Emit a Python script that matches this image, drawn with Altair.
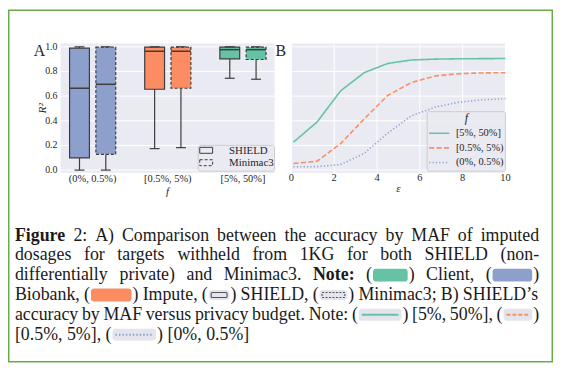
import altair as alt
import pandas as pd

# ---------------- data ----------------
maf_bins = ['(0%, 0.5%)', '[0.5%, 5%)', '[5%, 50%]']
methods = ['SHIELD', 'Minimac3']
# per MAF bin: [SHIELD, Minimac3]
whisker_low = [[0.000, 0.000], [0.174, 0.182], [0.745, 0.737]]
quartile_1 = [[0.099, 0.128], [0.656, 0.664], [0.902, 0.897]]
median_r2 = [[0.664, 0.696], [0.964, 0.964], [0.977, 0.977]]
quartile_3 = [[0.990, 0.997], [0.998, 0.998], [0.998, 0.998]]
whisker_high = [[1.000, 1.000], [1.000, 1.000], [1.000, 1.000]]

epsilon = [0.1, 1.2, 2.3, 3.4, 4.5, 5.6, 6.7, 7.8, 8.9, 10.0]
r2_common = [0.227, 0.390, 0.643, 0.790, 0.865, 0.893, 0.900, 0.903, 0.904, 0.905]
r2_lowfreq = [0.054, 0.072, 0.215, 0.415, 0.605, 0.710, 0.763, 0.782, 0.788, 0.790]
r2_rare = [0.027, 0.028, 0.045, 0.135, 0.300, 0.440, 0.510, 0.550, 0.570, 0.580]
line_bins = ['[5%, 50%]', '[0.5%, 5%)', '(0%, 0.5%)']

y_ticks = [0.0, 0.2, 0.4, 0.6, 0.8, 1.0]
eps_ticks = [0, 2, 4, 6, 8, 10]

# caption, one list per printed line ('*' = bold word, '@' = inline key)
caption_lines = [
    ['*Figure', '2:', 'A)', 'Comparison', 'between', 'the', 'accuracy', 'by', 'MAF', 'of', 'imputed'],
    ['dosages', 'for', 'targets', 'withheld', 'from', '1KG', 'for', 'both', 'SHIELD', '(non-'],
    ['differentially', 'private)', 'and', 'Minimac3.', '*Note:', '@client', 'Client,', '@biobank'],
    ['Biobank,', '@impute', 'Impute,', '@shield', 'SHIELD,', '@minimac', 'Minimac3;', 'B)', 'SHIELD\u2019s'],
    ['accuracy', 'by', 'MAF', 'versus', 'privacy', 'budget.', 'Note:', '@common', '[5%,', '50%],', '@lowfreq'],
    ['[0.5%,', '5%],', '@rare', '[0%,', '0.5%]'],
]

# ---------------- layout / style ----------------
W, H = 550, 356
M = 8  # page margin
FONT = 'Liberation Serif'
TXT = '#262626'
EDGE = '#3d3d3d'
BG = '#EAEAF2'
GREEN, ORANGE, BLUE = '#66C2A5', '#FC8D62', '#8DA0CB'
DASH_BOX = [3, 2]

y_dom = [-0.022, 1.026]
xA_dom = [-0.4276, 2.421]
xB_dom = [0, 10]
yS = alt.Scale(domain=y_dom, range=[172.7 - M, 42.3 - M], nice=False, zero=False)
xAS = alt.Scale(domain=xA_dom, range=[61 - M, 277 - M], nice=False, zero=False)
xBS = alt.Scale(domain=xB_dom, range=[294 - M, 510 - M], nice=False, zero=False)
colA = alt.Scale(domain=maf_bins, range=[BLUE, ORANGE, GREEN])
colB = alt.Scale(domain=line_bins, range=[GREEN, ORANGE, BLUE])
dashB = alt.Scale(domain=line_bins, range=[[1, 0], [5, 2.5], [1.2, 2.2]])


def px(v):
    return v - M


# ---------------- panel A ----------------
bgA_df = pd.DataFrame({'x0': [xA_dom[0]], 'x1': [xA_dom[1]], 'y0': [y_dom[0]], 'y1': [y_dom[1]]})
bgA = alt.Chart(bgA_df).mark_rect(color=BG).encode(
    x=alt.X('x0:Q', scale=xAS, axis=None), x2='x1:Q',
    y=alt.Y('y0:Q', scale=yS, axis=None), y2='y1:Q')
gridA_df = pd.DataFrame({'g': y_ticks, 'x0': xA_dom[0], 'x1': xA_dom[1]})
gridA = alt.Chart(gridA_df).mark_rule(color='white', strokeWidth=1).encode(
    x=alt.X('x0:Q', scale=xAS, axis=None), x2='x1:Q',
    y=alt.Y('g:Q', scale=yS, axis=None))

rows = []
for i, c in enumerate(maf_bins):
    for j, m in enumerate(methods):
        rows.append(dict(cat=c, idx=i, mi=j, method=m, low=whisker_low[i][j], q1=quartile_1[i][j],
                         med=median_r2[i][j], q3=quartile_3[i][j], high=whisker_high[i][j]))
box_df = pd.DataFrame(rows)
boxbase = alt.Chart(box_df).transform_calculate(
    xc='datum.idx + (datum.mi == 0 ? -0.175 : 0.175)'
).transform_calculate(
    xl='datum.xc - 0.132', xr='datum.xc + 0.132', cl='datum.xc - 0.066', cr='datum.xc + 0.066')

whisk_lo = boxbase.mark_rule(color=EDGE, strokeWidth=1.2).encode(
    x=alt.X('xc:Q', scale=xAS, axis=None), y=alt.Y('low:Q', scale=yS, axis=None), y2='q1:Q')
whisk_hi = boxbase.mark_rule(color=EDGE, strokeWidth=1.2).encode(
    x=alt.X('xc:Q', scale=xAS, axis=None), y=alt.Y('q3:Q', scale=yS, axis=None), y2='high:Q')
cap_lo = boxbase.mark_rule(color=EDGE, strokeWidth=1.2).encode(
    x=alt.X('cl:Q', scale=xAS, axis=None), x2='cr:Q', y=alt.Y('low:Q', scale=yS, axis=None))
cap_hi = boxbase.mark_rule(color=EDGE, strokeWidth=1.2).encode(
    x=alt.X('cl:Q', scale=xAS, axis=None), x2='cr:Q', y=alt.Y('high:Q', scale=yS, axis=None))
box_enc = dict(
    x=alt.X('xl:Q', scale=xAS, axis=None), x2='xr:Q',
    y=alt.Y('q1:Q', scale=yS, axis=None), y2='q3:Q',
    color=alt.Color('cat:N', scale=colA, legend=None))
boxes_shield = boxbase.transform_filter('datum.mi == 0').mark_rect(
    stroke=EDGE, strokeWidth=1.2).encode(**box_enc)
boxes_mini = boxbase.transform_filter('datum.mi == 1').mark_rect(
    stroke=EDGE, strokeWidth=1.2, strokeDash=DASH_BOX).encode(**box_enc)
medians = boxbase.mark_rule(color=EDGE, strokeWidth=1.5).encode(
    x=alt.X('xl:Q', scale=xAS, axis=None), x2='xr:Q', y=alt.Y('med:Q', scale=yS, axis=None))

# legend of panel A
legA_box = alt.Chart(pd.DataFrame({'a': [0]})).mark_rect(
    fill=BG, fillOpacity=0.85, stroke='#CCCCCC', strokeWidth=1, cornerRadius=2).encode(
    x=alt.value(px(200)), x2=alt.value(px(277)), y=alt.value(px(145)), y2=alt.value(px(171)))
legA_df = pd.DataFrame({'method': methods, 'mi': [0, 1], 'x0': [px(201.5)] * 2, 'x1': [px(214.5)] * 2,
                        'y0': [px(147), px(159.5)], 'y1': [px(153), px(165.5)],
                        'tx': [px(231)] * 2, 'ty': [px(150.5), px(163)]})
legA_enc = dict(x=alt.X('x0:Q', scale=None), x2='x1:Q', y=alt.Y('y0:Q', scale=None), y2='y1:Q')
legA_sym_s = alt.Chart(legA_df).transform_filter('datum.mi == 0').mark_rect(
    fill='transparent', stroke=EDGE, strokeWidth=1).encode(**legA_enc)
legA_sym_m = alt.Chart(legA_df).transform_filter('datum.mi == 1').mark_rect(
    fill='transparent', stroke=EDGE, strokeWidth=1, strokeDash=DASH_BOX).encode(**legA_enc)
legA_txt = alt.Chart(legA_df).mark_text(align='left', baseline='middle', font=FONT, fontSize=11,
                                        color=TXT).encode(
    x=alt.X('tx:Q', scale=None), y=alt.Y('ty:Q', scale=None), text='method:N')

panelA = alt.layer(bgA, gridA, whisk_lo, whisk_hi, boxes_shield, boxes_mini, medians, cap_lo, cap_hi,
                   legA_box, legA_sym_s, legA_sym_m, legA_txt)

# ---------------- panel B ----------------
bgB_df = pd.DataFrame({'x0': [xB_dom[0]], 'x1': [xB_dom[1]], 'y0': [y_dom[0]], 'y1': [y_dom[1]]})
bgB = alt.Chart(bgB_df).mark_rect(color=BG).encode(
    x=alt.X('x0:Q', scale=xBS, axis=None), x2='x1:Q',
    y=alt.Y('y0:Q', scale=yS, axis=None), y2='y1:Q')
gridBh_df = pd.DataFrame({'g': y_ticks, 'x0': xB_dom[0], 'x1': xB_dom[1]})
gridBh = alt.Chart(gridBh_df).mark_rule(color='white', strokeWidth=1).encode(
    x=alt.X('x0:Q', scale=xBS, axis=None), x2='x1:Q', y=alt.Y('g:Q', scale=yS, axis=None))
gridBv_df = pd.DataFrame({'g': eps_ticks, 'y0': y_dom[0], 'y1': y_dom[1]})
gridBv = alt.Chart(gridBv_df).mark_rule(color='white', strokeWidth=1).encode(
    x=alt.X('g:Q', scale=xBS, axis=None), y=alt.Y('y0:Q', scale=yS, axis=None), y2='y1:Q')

line_df = pd.DataFrame({
    'eps': epsilon * 3,
    'r2': r2_common + r2_lowfreq + r2_rare,
    'f': [line_bins[0]] * 10 + [line_bins[1]] * 10 + [line_bins[2]] * 10,
})
lines = alt.Chart(line_df).mark_line(strokeWidth=1.6).encode(
    x=alt.X('eps:Q', scale=xBS, axis=None),
    y=alt.Y('r2:Q', scale=yS, axis=None),
    color=alt.Color('f:N', scale=colB, legend=None),
    strokeDash=alt.StrokeDash('f:N', scale=dashB, legend=None))

# legend of panel B
legB_box = alt.Chart(pd.DataFrame({'a': [0]})).mark_rect(
    fill=BG, fillOpacity=0.85, stroke='#CCCCCC', strokeWidth=1, cornerRadius=2).encode(
    x=alt.value(px(431)), x2=alt.value(px(510)), y=alt.value(px(111)), y2=alt.value(px(171)))
legB_title = alt.Chart(pd.DataFrame({'t': ['f']})).mark_text(
    align='center', baseline='alphabetic', font=FONT, fontSize=12, fontStyle='italic', color=TXT).encode(
    x=alt.value(px(470.5)), y=alt.value(px(121.5)), text='t:N')
legB_df = pd.DataFrame({'f': line_bins, 'x0': [px(433)] * 3, 'x1': [px(453.5)] * 3,
                        'y': [px(132.7), px(147.5), px(162.3)], 'tx': [px(460)] * 3})
legB_sym = alt.Chart(legB_df).mark_rule(strokeWidth=1.6).encode(
    x=alt.X('x0:Q', scale=None), x2='x1:Q', y=alt.Y('y:Q', scale=None),
    color=alt.Color('f:N', scale=colB, legend=None),
    strokeDash=alt.StrokeDash('f:N', scale=dashB, legend=None))
legB_txt = alt.Chart(legB_df).mark_text(align='left', baseline='middle', font=FONT, fontSize=10.5,
                                        color=TXT).encode(
    x=alt.X('tx:Q', scale=None), y=alt.Y('y:Q', scale=None), text='f:N')

panelB = alt.layer(bgB, gridBh, gridBv, lines, legB_box, legB_title, legB_sym, legB_txt)

# ---------------- tick labels and axis titles ----------------
ytick_df = pd.DataFrame({'v': y_ticks})
ylabels = alt.Chart(ytick_df).mark_text(align='right', baseline='middle', font=FONT, fontSize=10,
                                        color=TXT).encode(
    x=alt.value(px(58)), y=alt.Y('v:Q', scale=yS, axis=None), text=alt.Text('v:Q', format='.1f'))
xA_df = pd.DataFrame({'idx': [0, 1, 2], 'lab': maf_bins})
xAlabels = alt.Chart(xA_df).mark_text(align='center', baseline='alphabetic', font=FONT, fontSize=10.5,
                                      color=TXT).encode(
    x=alt.X('idx:Q', scale=xAS, axis=None), y=alt.value(px(181.5)), text='lab:N')
xB_df = pd.DataFrame({'v': eps_ticks})
xBlabels = alt.Chart(xB_df).mark_text(align='center', baseline='alphabetic', font=FONT, fontSize=10.5,
                                      color=TXT).encode(
    x=alt.X('v:Q', scale=xBS, axis=None), y=alt.value(px(181)), text=alt.Text('v:Q', format='d'))
titles_df = pd.DataFrame({'t': ['f', '\u03b5'], 'x': [px(169), px(402)], 'y': [px(195.5), px(192)]})
xtitles = alt.Chart(titles_df).mark_text(align='center', baseline='alphabetic', font=FONT, fontSize=11,
                                         fontStyle='italic', color=TXT).encode(
    x=alt.X('x:Q', scale=None), y=alt.Y('y:Q', scale=None), text='t:N')
ytitle = alt.Chart(pd.DataFrame({'t': ['R\u00b2']})).mark_text(
    align='center', baseline='middle', font=FONT, fontSize=11.5, fontStyle='italic', angle=270,
    color=TXT).encode(x=alt.value(px(43.5)), y=alt.value(px(107.5)), text='t:N')

letters_df = pd.DataFrame({'t': ['A', 'B'], 'x': [px(34), px(278)], 'y': [px(54.5), px(54.5)]})
letters = alt.Chart(letters_df).mark_text(align='left', baseline='alphabetic', font=FONT,
                                          fontSize=16, color=TXT).encode(
    x=alt.X('x:Q', scale=None), y=alt.Y('y:Q', scale=None), text='t:N')

# ---------------- caption (justified like the printed page) ----------------
REG = {' ': 250, '(': 333, ')': 333, ',': 250, '-': 333, '.': 250, ':': 278, ';': 278, '%': 833,
       '[': 333, ']': 333, '\u2019': 333, 'A': 722, 'B': 667, 'C': 667, 'D': 722, 'E': 611, 'F': 556,
       'G': 722, 'H': 722, 'I': 333, 'K': 722, 'L': 611, 'M': 889, 'N': 722, 'S': 556, 'a': 444,
       'b': 500, 'c': 444, 'd': 500, 'e': 444, 'f': 333, 'g': 500, 'h': 500, 'i': 278, 'k': 500,
       'l': 278, 'm': 778, 'n': 500, 'o': 500, 'p': 500, 'r': 333, 's': 389, 't': 278, 'u': 500,
       'v': 500, 'w': 722, 'y': 500}
BOLD = dict(REG)
BOLD.update({'F': 611, 'u': 556, 'r': 444, 't': 333, ':': 333})
CAP = 18
LEFT, RIGHT = 15, 544
caption_baselines = [241, 261, 281, 301, 321, 341]
key_w = {'client': 35, 'biobank': 40, 'impute': 41, 'shield': 21, 'minimac': 28,
         'common': 43, 'lowfreq': 29, 'rare': 44}


def tw(s, bold=False):
    return sum((BOLD if bold else REG).get(ch, 500) for ch in s) * CAP / 1000.0


PAREN = tw('(')


def unit_w(tok):
    if tok.startswith('@'):
        return 2 * PAREN + key_w[tok[1:]] + 2
    return tw(tok.lstrip('*'), tok.startswith('*'))


reg_words, bold_words, keys = [], [], []
for li, toks in enumerate(caption_lines):
    widths = [unit_w(t) for t in toks]
    if li < len(caption_lines) - 1:
        gap = (RIGHT - LEFT - sum(widths)) / (len(toks) - 1)
    else:
        gap = tw(' ')
    x = LEFT
    base = caption_baselines[li]
    for t, w in zip(toks, widths):
        if t.startswith('@'):
            k = t[1:]
            reg_words.append(dict(x=px(x), y=px(base), t='('))
            sx0 = x + PAREN + 1
            sx1 = sx0 + key_w[k]
            keys.append(dict(k=k, x0=sx0, x1=sx1, base=base))
            reg_words.append(dict(x=px(sx1 + 1), y=px(base), t=')'))
        elif t.startswith('*'):
            bold_words.append(dict(x=px(x), y=px(base), t=t[1:]))
        else:
            reg_words.append(dict(x=px(x), y=px(base), t=t))
        x += w + gap

CAP_COL = '#1a1a1a'
cap_reg = alt.Chart(pd.DataFrame(reg_words)).mark_text(
    align='left', baseline='alphabetic', font=FONT, fontSize=CAP, color=CAP_COL).encode(
    x=alt.X('x:Q', scale=None), y=alt.Y('y:Q', scale=None), text='t:N')
cap_bold = alt.Chart(pd.DataFrame(bold_words)).mark_text(
    align='left', baseline='alphabetic', font=FONT, fontSize=CAP, fontWeight='bold', color=CAP_COL).encode(
    x=alt.X('x:Q', scale=None), y=alt.Y('y:Q', scale=None), text='t:N')

fill_of = {'client': GREEN, 'biobank': BLUE, 'impute': ORANGE}
solid_rows, light_rows, inner_rows, kline_rows = [], [], [], []
for kk in keys:
    k, x0, x1, b = kk['k'], kk['x0'], kk['x1'], kk['base']
    if k in fill_of:
        solid_rows.append(dict(x0=px(x0), x1=px(x1), y0=px(b - 11.5), y1=px(b + 1.5), c=fill_of[k]))
    elif k in ('shield', 'minimac'):
        light_rows.append(dict(x0=px(x0), x1=px(x1), y0=px(b - 10), y1=px(b)))
        inner_rows.append(dict(x0=px(x0 + 2.5), x1=px(x1 - 2.5), y0=px(b - 7.5), y1=px(b - 2.5),
                               d=0 if k == 'shield' else 1))
    else:
        light_rows.append(dict(x0=px(x0), x1=px(x1), y0=px(b - 11), y1=px(b + 1)))
        fb = {'common': line_bins[0], 'lowfreq': line_bins[1], 'rare': line_bins[2]}[k]
        kline_rows.append(dict(x0=px(x0 + 3), x1=px(x1 - 3), y=px(b - 5), f=fb))

sw_solid = alt.Chart(pd.DataFrame(solid_rows)).mark_rect(cornerRadius=3).encode(
    x=alt.X('x0:Q', scale=None), x2='x1:Q', y=alt.Y('y0:Q', scale=None), y2='y1:Q',
    color=alt.Color('c:N', scale=None))
sw_light = alt.Chart(pd.DataFrame(light_rows)).mark_rect(cornerRadius=3, color='#E4E4EC').encode(
    x=alt.X('x0:Q', scale=None), x2='x1:Q', y=alt.Y('y0:Q', scale=None), y2='y1:Q')
inner_df = pd.DataFrame(inner_rows)
inner_enc = dict(x=alt.X('x0:Q', scale=None), x2='x1:Q', y=alt.Y('y0:Q', scale=None), y2='y1:Q')
sw_inner_s = alt.Chart(inner_df).transform_filter('datum.d == 0').mark_rect(
    fill='transparent', stroke='#555555', strokeWidth=1.1, cornerRadius=1).encode(**inner_enc)
sw_inner_m = alt.Chart(inner_df).transform_filter('datum.d == 1').mark_rect(
    fill='transparent', stroke='#555555', strokeWidth=1.1, strokeDash=[2, 1.5]).encode(**inner_enc)
sw_lines = alt.Chart(pd.DataFrame(kline_rows)).mark_rule(strokeWidth=2).encode(
    x=alt.X('x0:Q', scale=None), x2='x1:Q', y=alt.Y('y:Q', scale=None),
    color=alt.Color('f:N', scale=colB, legend=None),
    strokeDash=alt.StrokeDash('f:N', scale=alt.Scale(domain=line_bins, range=[[1, 0], [4, 2], [1.5, 2]]),
                              legend=None))

# ---------------- frame ----------------
frame = alt.Chart(pd.DataFrame({'a': [0]})).mark_rect(
    fill='transparent', stroke='#6AAB45', strokeWidth=1.5).encode(
    x=alt.value(0.75), x2=alt.value(W - 0.75), y=alt.value(0.75), y2=alt.value(H - 0.75))

chart = alt.layer(
    panelA, panelB, ylabels, xAlabels, xBlabels, xtitles, ytitle, letters,
    sw_light, sw_solid, sw_inner_s, sw_inner_m, sw_lines, cap_reg, cap_bold, frame
).resolve_scale(
    x='independent', y='independent', color='independent', strokeDash='independent'
).properties(
    width=W, height=H, padding=0, autosize=alt.AutoSizeParams(type='none')
).configure_view(stroke='transparent')

chart.save('out.html', embed_options={'renderer': 'svg', 'actions': False})
